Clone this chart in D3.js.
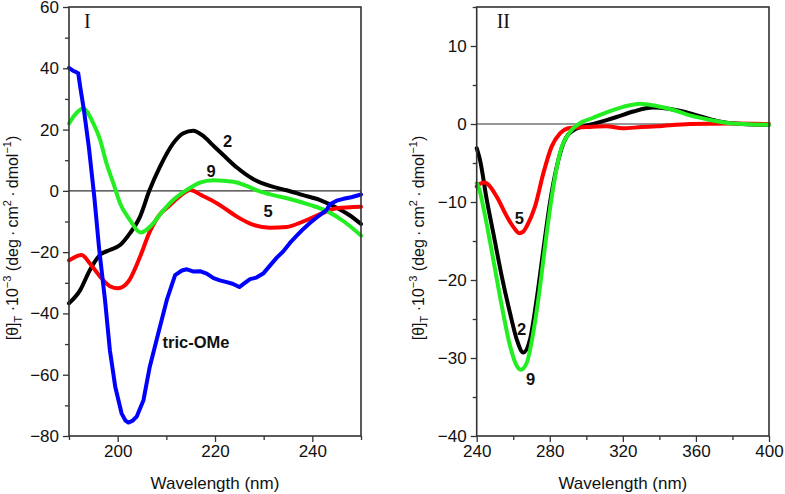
<!DOCTYPE html>
<html><head><meta charset="utf-8">
<script src="https://cdn.jsdelivr.net/npm/d3@7/dist/d3.min.js"></script>
<style>body{margin:0;background:#fff}svg{display:block}</style>
</head><body>
<svg id="chart" width="785" height="494"></svg>
<script>
// ---------- DATA ----------
// Panel I (190–250 nm)
const panel1Black2 = [[190,-36.7],[192.3,-32.4],[194.3,-25.8],[196.4,-20.9],[198.4,-19.3],[200.5,-17.7],[202.5,-13.9],[204.6,-8.4],[206.5,0],[208.7,7.9],[211.4,15.5],[213.5,18.8],[215.5,19.6],[217.5,18],[219.5,15],[221.7,11.7],[224.5,7.6],[227.9,3.8],[231.3,1.6],[234.7,0.2],[238.1,-1.4],[241.6,-3],[245,-5.5],[247.5,-7.8],[250,-10.8]];
const panel1Red5 = [[190,-22.7],[192.6,-20.9],[194.3,-23.7],[196.4,-28],[198.4,-31.1],[200.1,-31.8],[202.2,-29.6],[204.6,-21.5],[206.6,-13.3],[208.7,-7.6],[210.5,-5],[212.8,-1.7],[214.9,0.3],[217.2,-1.4],[219.2,-3],[221.7,-5.4],[224.5,-8.4],[227.9,-11.1],[231.3,-12],[234.7,-11.8],[238.1,-10],[241.6,-7.6],[245,-5.7],[250,-5.2]];
const panel1Green9 = [[190,22],[191.2,24.8],[192.9,26.9],[195,22],[196.4,16.6],[197.7,9],[199.1,2.5],[200.5,-4.1],[202.5,-9.5],[204.7,-13.6],[207.3,-10.6],[208.9,-7.3],[211.4,-3],[214.2,0.3],[216.9,2.7],[219.6,3.5],[223.8,3],[226.5,1.6],[229.2,-0.2],[232,-1.4],[235,-2.5],[239.5,-4.6],[243,-6.6],[246.5,-10],[250,-14.6]];
const panel1BlueTric = [[190,40.1],[190.8,39.2],[191.4,38.8],[191.9,38.4],[192.3,34],[193.1,26],[194.1,14],[195.2,-2],[196.2,-19],[197.4,-35.6],[198.4,-52],[199.5,-63.9],[200.8,-72.6],[201.6,-75],[202.2,-75.6],[203,-75.1],[203.9,-73.7],[205.3,-68.3],[206.6,-57.4],[208.7,-44.3],[210.1,-35.6],[211.8,-27.5],[213.2,-26],[214.2,-25.6],[215.5,-26.3],[216.9,-26.2],[218.3,-27],[219.7,-28.5],[221,-29.2],[222.4,-29.8],[223.6,-30.3],[225,-31.4],[226,-30.2],[227.2,-28.8],[228.5,-28.3],[229.9,-27],[231.5,-24],[232.7,-21.8],[234,-19.8],[235.4,-17],[236.7,-14.8],[238.1,-12.5],[239.5,-10.5],[240.9,-8.7],[242.9,-6.3],[243.6,-4.4],[245,-3.2],[246.4,-2.6],[248,-2.1],[250,-1.2]];
// Panel II (240–400 nm)
const panel2Black2 = [[240,-3.1],[241.8,-4.6],[245.5,-9.7],[249.1,-14],[253.7,-19.5],[258.2,-24.2],[261.9,-27.6],[265.5,-29.3],[269.2,-27.6],[272.8,-22.5],[276.5,-16.1],[280.1,-10.1],[283.8,-5.5],[287.4,-2.5],[292.9,-0.8],[302,-0.1],[311.1,0.5],[316.6,0.9],[325.7,1.6],[336.7,2.1],[344,2],[353,1.6],[362,1],[371.3,0.4],[385,0],[400,-0.1]];
const panel2Red5 = [[240,-8],[241.5,-7.7],[244.5,-7.5],[245.5,-7.6],[250.9,-9.3],[256.4,-11.8],[261,-13.5],[263.3,-14],[265.5,-13.8],[267.4,-13.1],[271.9,-10.6],[276.5,-6.3],[281,-2.9],[285.6,-1.2],[291.1,-0.5],[300.2,-0.4],[311,-0.3],[320,-0.55],[330,-0.4],[338.5,-0.3],[356.7,0],[380,0.05],[400,0]];
const panel2Green9 = [[240,-7.6],[240.9,-8],[244.6,-11.8],[249.1,-17.4],[253.7,-23.3],[258.2,-28.4],[261.9,-31],[264.1,-31.5],[267.4,-30.6],[271,-26.7],[274.7,-20.8],[278.3,-14],[282,-8],[285.6,-3.7],[291.1,-1],[296.5,0.1],[303.8,0.8],[311.1,1.5],[320.2,2.2],[329.4,2.6],[338.5,2.3],[347.6,1.8],[356.7,1.1],[365.9,0.6],[378.6,0.1],[400,-0.1]];

const panel1XTicks = [200,220,240];
const panel1XMinor = [190,210,230,250];
const panel1YTicks = [60,40,20,0,-20,-40,-60,-80];
const panel1YMinor = [50,30,10,-10,-30,-50,-70];
const panel2XTicks = [240,280,320,360,400];
const panel2XMinor = [260,300,340,380];
const panel2YTicks = [10,0,-10,-20,-30,-40];
const panel2YMinor = [15,5,-5,-15,-25,-35];

// ---------- DRAW ----------
const svg = d3.select("#chart");
const FONT = "'Liberation Sans', Arial, Helvetica, sans-serif";
const colors = {black:"#000000", red:"#ff0000", green:"#22ee22", blue:"#0000ff"};

function panel(opt){
  const x = d3.scaleLinear().domain(opt.xDomain).range([opt.left, opt.right]);
  const y = d3.scaleLinear().domain(opt.yDomain).range([opt.bottom, opt.top]);
  const g = svg.append("g");
  // zero line
  g.append("line").attr("x1",opt.left).attr("x2",opt.right).attr("y1",y(0)).attr("y2",y(0))
    .attr("stroke","#333").attr("stroke-width",1.2);
  // curves
  const line = d3.line().x(d=>x(d[0])).y(d=>y(d[1]));
  opt.series.forEach(s=>{
    g.append("path").datum(s.data)
      .attr("d", line.curve(s.smooth ? d3.curveMonotoneX : d3.curveLinear))
      .attr("fill","none").attr("stroke",s.color).attr("stroke-width",4)
      .attr("stroke-linejoin","round").attr("stroke-linecap","round");
  });
  // frame
  g.append("rect").attr("x",opt.left).attr("y",opt.top)
    .attr("width",opt.right-opt.left).attr("height",opt.bottom-opt.top)
    .attr("fill","none").attr("stroke","#333").attr("stroke-width",1.6);
  // axes
  const fmt = d3.format("d");
  const xa = g.append("g").attr("transform",`translate(0,${opt.bottom})`)
    .call(d3.axisBottom(x).tickValues(opt.xTicks).tickSize(6).tickSizeOuter(0).tickPadding(3).tickFormat(fmt));
  const xm = g.append("g").attr("transform",`translate(0,${opt.bottom})`)
    .call(d3.axisBottom(x).tickValues(opt.xMinor).tickSize(4).tickSizeOuter(0).tickFormat(""));
  const ya = g.append("g").attr("transform",`translate(${opt.left},0)`)
    .call(d3.axisLeft(y).tickValues(opt.yTicks).tickSize(6).tickSizeOuter(0).tickPadding(4).tickFormat(fmt));
  const ym = g.append("g").attr("transform",`translate(${opt.left},0)`)
    .call(d3.axisLeft(y).tickValues(opt.yMinor).tickSize(4).tickSizeOuter(0).tickFormat(""));
  [xa,xm,ya,ym].forEach(a=>{
    a.select(".domain").remove();
    a.selectAll("line").attr("stroke","#333").attr("stroke-width",1.3);
    a.selectAll("text").attr("font-family",FONT).attr("font-size",17).attr("fill","#111");
  });
  // x title
  g.append("text").attr("x",(opt.left+opt.right)/2).attr("y",489).attr("text-anchor","middle")
    .attr("font-family",FONT).attr("font-size",17).attr("fill","#111").text("Wavelength (nm)");
  // y title
  const yt = g.append("text").attr("transform",`translate(${opt.yTitleX},${opt.yTitleY}) rotate(-90)`)
    .attr("text-anchor","middle").attr("font-family",FONT).attr("font-size",16).attr("fill","#111");
  yt.append("tspan").text("[θ]");
  yt.append("tspan").attr("font-size",11).attr("dy",4).text("T");
  yt.append("tspan").attr("dy",-4).text(" ·10");
  yt.append("tspan").attr("font-size",11).attr("dy",-7).text("−3");
  yt.append("tspan").attr("dy",7).text(" (deg\u2009·\u2009cm");
  yt.append("tspan").attr("font-size",11).attr("dy",-7).text("2");
  yt.append("tspan").attr("dy",7).text("\u2009·\u2009dmol");
  yt.append("tspan").attr("font-size",11).attr("dy",-7).text("−1");
  yt.append("tspan").attr("dy",7).text(")");
  // panel label
  g.append("text").attr("x",opt.left+opt.labelDx).attr("y",opt.top+21)
    .attr("font-family","'Liberation Serif', 'Times New Roman', serif").attr("font-size",20).attr("fill","#111")
    .text(opt.label);
  // curve labels
  opt.curveLabels.forEach(l=>{
    g.append("text").attr("x",x(l.nm)).attr("y",y(l.v)).attr("text-anchor","middle")
      .attr("dominant-baseline","central")
      .attr("font-family",FONT).attr("font-weight","bold").attr("font-size",16.5).attr("fill","#111").text(l.t);
  });
}

panel({
  left:69, right:361, top:7, bottom:436, xDomain:[190,250], yDomain:[-80,60],
  xTicks:panel1XTicks, xMinor:panel1XMinor, yTicks:panel1YTicks, yMinor:panel1YMinor,
  yTitleX:18, yTitleY:238, label:"I", labelDx:15,
  series:[
    {data:panel1Black2, color:colors.black, smooth:true},
    {data:panel1Red5, color:colors.red, smooth:true},
    {data:panel1Green9, color:colors.green, smooth:true},
    {data:panel1BlueTric, color:colors.blue, smooth:false}
  ],
  curveLabels:[
    {t:"2", nm:222.6, v:16.3},
    {t:"9", nm:219.2, v:6.5},
    {t:"5", nm:230.9, v:-6.6},
    {t:"tric-OMe", nm:216.1, v:-49.3}
  ]
});

panel({
  left:476.7, right:769, top:7, bottom:436, xDomain:[240,400], yDomain:[-40,15],
  xTicks:panel2XTicks, xMinor:panel2XMinor, yTicks:panel2YTicks, yMinor:panel2YMinor,
  yTitleX:424, yTitleY:238, label:"II", labelDx:20,
  series:[
    {data:panel2Black2, color:colors.black, smooth:true},
    {data:panel2Red5, color:colors.red, smooth:true},
    {data:panel2Green9, color:colors.green, smooth:true}
  ],
  curveLabels:[
    {t:"5", nm:263.3, v:-12},
    {t:"2", nm:264.6, v:-26.3},
    {t:"9", nm:269.5, v:-32.7}
  ]
});
</script>
</body></html>
